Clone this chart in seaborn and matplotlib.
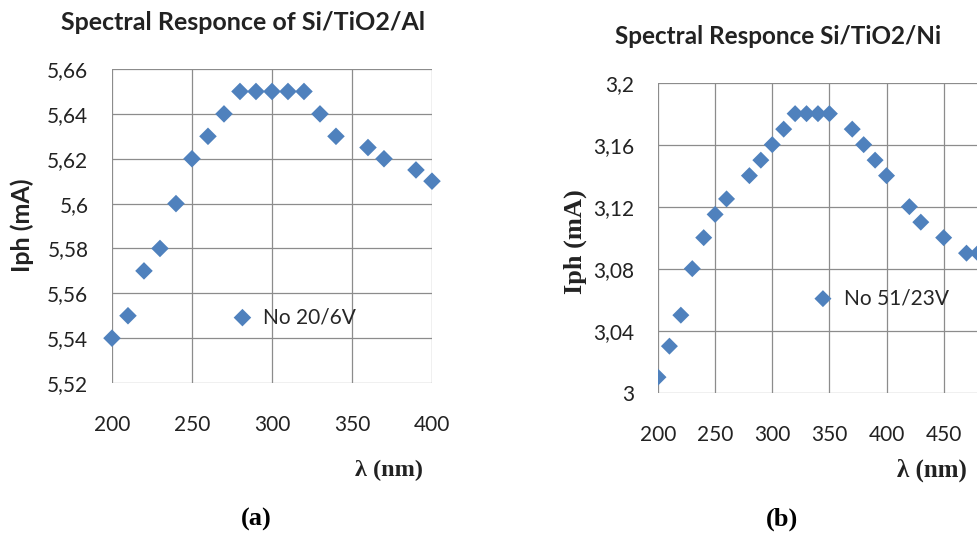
import numpy as np
import pandas as pd
import matplotlib
matplotlib.use("Agg")
import matplotlib.pyplot as plt
import seaborn as sns
from matplotlib.ticker import MultipleLocator, FuncFormatter

# Data
wl_al = [200, 210, 220, 230, 240, 250, 260, 270, 280, 290, 300, 310, 320, 330, 340, 360, 370, 390, 400]
iph_al = [5.54, 5.55, 5.57, 5.58, 5.60, 5.62, 5.63, 5.64, 5.65, 5.65, 5.65, 5.65, 5.65, 5.64, 5.63, 5.625, 5.62, 5.615, 5.61]

wl_ni = [200, 210, 220, 230, 240, 250, 260, 280, 290, 300, 310, 320, 330, 340, 350,
         370, 380, 390, 400, 420, 430, 450, 470, 480]
iph_ni = [3.01, 3.03, 3.05, 3.08, 3.10, 3.115, 3.125, 3.14, 3.15, 3.16, 3.17, 3.18, 3.18, 3.18, 3.18,
          3.17, 3.16, 3.15, 3.14, 3.12, 3.11, 3.10, 3.09, 3.09]

df_al = pd.DataFrame({"wl": wl_al, "iph": iph_al})
df_ni = pd.DataFrame({"wl": wl_ni, "iph": iph_ni})

sns.set_theme(style="whitegrid")
plt.rcParams["font.family"] = ["Lato", "DejaVu Sans"]

blue = "#4F81BD"
grid_c = "#8C8C8C"
txt_c = "#222222"
serif = ["Liberation Serif", "DejaVu Serif"]
comma = FuncFormatter(lambda v, p: f"{v:g}".replace(".", ","))
# the 500 tick of panel (b) falls outside the cropped picture, so leave it unlabelled
x_fmt_b = FuncFormatter(lambda v, p: "" if v > 475 else f"{v:g}")

fig = plt.figure(figsize=(9.78, 5.36), dpi=100)
ax1 = fig.add_axes([0.1145, 0.2854, 0.3272, 0.5858])
ax2 = fig.add_axes([0.6728, 0.2674, 0.3505, 0.5784])


def style(ax, xpad):
    ax.set_facecolor("white")
    ax.grid(True, color=grid_c, linewidth=0.9)
    for s in ax.spines.values():
        s.set_visible(False)
    ax.tick_params(axis="both", which="major", direction="out", length=4,
                   color=grid_c, width=0.9, labelsize=15, labelcolor=txt_c)
    ax.tick_params(axis="x", pad=xpad)
    ax.tick_params(axis="y", pad=13)
    ax.yaxis.set_major_formatter(comma)
    ax.set_xlabel("")
    ax.set_ylabel("")


# (a) Si/TiO2/Al
sns.scatterplot(data=df_al, x="wl", y="iph", ax=ax1, marker="D", s=80,
                color=blue, edgecolor="none", label="No 20/6V", clip_on=False)
ax1.set_xlim(200, 400)
ax1.set_ylim(5.52, 5.66)
ax1.xaxis.set_major_locator(MultipleLocator(50))
ax1.yaxis.set_major_locator(MultipleLocator(0.02))
style(ax1, 19)
ax1.legend(loc="center left", bbox_to_anchor=(0.31, 0.21), frameon=False,
           handletextpad=0.0, fontsize=15, markerscale=1.0, borderpad=0)

# (b) Si/TiO2/Ni
sns.scatterplot(data=df_ni, x="wl", y="iph", ax=ax2, marker="D", s=75,
                color=blue, edgecolor="none", label="No 51/23V")
ax2.set_xlim(200, 500)
ax2.set_ylim(3.0, 3.2)
ax2.xaxis.set_major_locator(MultipleLocator(50))
ax2.xaxis.set_major_formatter(x_fmt_b)
ax2.yaxis.set_major_locator(MultipleLocator(0.04))
style(ax2, 19)
ax2.legend(loc="center left", bbox_to_anchor=(0.39, 0.305), frameon=False,
           handletextpad=0.0, fontsize=15, markerscale=1.0, borderpad=0)

# titles, axis labels and panel letters
fig.text(243 / 978, 1 - 22 / 536, "Spectral Responce of Si/TiO2/Al", ha="center", va="center",
         fontsize=18, fontweight="bold", color=txt_c)
fig.text(778 / 978, 1 - 36 / 536, "Spectral Responce Si/TiO2/Ni", ha="center", va="center",
         fontsize=17.5, fontweight="bold", color=txt_c)
fig.text(22 / 978, 1 - 225 / 536, "Iph (mA)", rotation=90, ha="center", va="center",
         fontsize=18, fontweight="bold", color=txt_c)
fig.text(575 / 978, 1 - 242 / 536, "Iph (mA)", rotation=90, ha="center", va="center",
         fontsize=19, fontweight="bold", family=serif, color=txt_c)
fig.text(389 / 978, 1 - 470 / 536, "λ (nm)", ha="center", va="center",
         fontsize=17.5, fontweight="bold", family=serif, color=txt_c)
fig.text(932 / 978, 1 - 470 / 536, "λ (nm)", ha="center", va="center",
         fontsize=18, fontweight="bold", family=serif, color=txt_c)
fig.text(256 / 978, 1 - 519 / 536, "(a)", ha="center", va="center",
         fontsize=19, fontweight="bold", family=serif, color="black")
fig.text(782 / 978, 1 - 519 / 536, "(b)", ha="center", va="center",
         fontsize=19, fontweight="bold", family=serif, color="black")

fig.savefig("out.png", dpi=100, facecolor="white")
